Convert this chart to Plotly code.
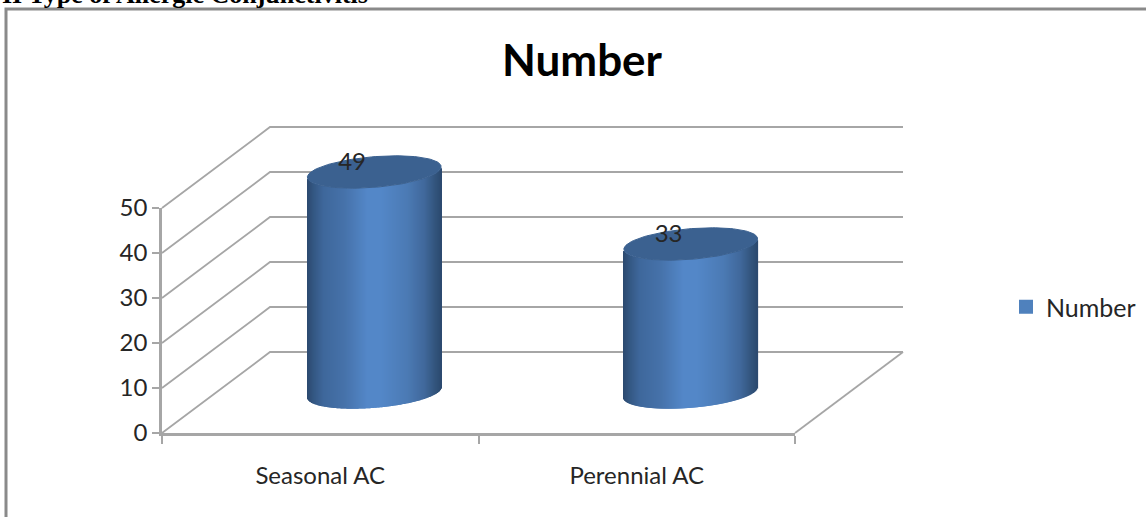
import numpy as np
import plotly.graph_objects as go

# Chart data
CATEGORIES = ["Seasonal AC", "Perennial AC"]
SERIES_NAME = "Number"
VALUES = [49, 33]
Y_TICKS = [0, 10, 20, 30, 40, 50]

# Figure and plot-box layout (pixels)
W, H = 1146, 517
BOX_LEFT, BOX_RIGHT, BOX_BOTTOM, BOX_TOP = 162, 795, 433, 208
X_MAX = len(CATEGORIES)
Y_MAX = Y_TICKS[-1]
PX_PER_CAT = (BOX_RIGHT - BOX_LEFT) / X_MAX
PX_PER_UNIT = (BOX_BOTTOM - BOX_TOP) / Y_MAX

# The drawing axes cover the whole figure on the same scale as the visible axes
FULL_X_RANGE = [-BOX_LEFT / PX_PER_CAT, (W - BOX_LEFT) / PX_PER_CAT]
FULL_Y_RANGE = [(BOX_BOTTOM - H) / PX_PER_UNIT, BOX_BOTTOM / PX_PER_UNIT]

# Oblique projection: full floor depth expressed in data units
DEPTH_X = 108 / PX_PER_CAT
DEPTH_Y = 81 / PX_PER_UNIT

# Cylinder proportions: radius along the category axis and along the depth axis
RADIUS_X = 0.2
RADIUS_Z = 0.2
CENTRE_Z = 0.5

GREY = "#a6a6a6"
TEXT = "#262626"
TOP_FACE = "#3b6190"
LEGEND_BLUE = "#4f81bd"
FONT = "Lato"

# Horizontal shading across a cylinder body (position, r, g, b)
SHADE = np.array([
    (0.00, 44, 74, 112),
    (0.05, 52, 88, 132),
    (0.12, 62, 103, 155),
    (0.28, 70, 114, 170),
    (0.45, 83, 135, 200),
    (0.55, 83, 135, 200),
    (0.75, 75, 122, 180),
    (0.88, 64, 104, 155),
    (0.96, 50, 84, 124),
    (1.00, 44, 74, 112),
])


def project(cat, value, z):
    """Map category position, value and depth (0 front, 1 back) to axis units."""
    return cat + z * DEPTH_X, value + z * DEPTH_Y


def shade(frac):
    return [
        "rgb({:.0f},{:.0f},{:.0f})".format(*(np.interp(f, SHADE[:, 0], SHADE[:, c]) for c in (1, 2, 3)))
        for f in frac
    ]


def cylinder_traces(index, value):
    cat = index + 0.5
    cx, floor_y = project(cat, 0, CENTRE_Z)

    # Half width of the sheared circle and the phase of its widest point
    b = RADIUS_Z * DEPTH_X
    half = np.hypot(RADIUS_X, b)
    phase = np.arctan2(b, RADIUS_X)

    # Body: one-pixel columns resting on the lower edge of the floor ellipse
    step = 1 / PX_PER_CAT
    xs = np.arange(cx - half + step / 2, cx + half, step)
    t = phase - np.arccos(np.clip((xs - cx) / half, -1, 1))
    base = floor_y + RADIUS_Z * DEPTH_Y * np.sin(t)
    body = go.Bar(
        x=xs, y=np.full_like(xs, value, dtype=float), base=base, width=step * 1.5,
        marker=dict(color=shade((xs - xs[0]) / (xs[-1] - xs[0])), line=dict(width=0)),
        showlegend=False, hoverinfo="skip", xaxis="x2", yaxis="y2",
    )

    # Top face: the same sheared circle lifted to the bar's value
    angle = np.linspace(0, 2 * np.pi, 121)
    tx, ty = project(cat + RADIUS_X * np.cos(angle), value, CENTRE_Z + RADIUS_Z * np.sin(angle))
    top = go.Scatter(
        x=tx, y=ty, mode="lines", fill="toself", fillcolor=TOP_FACE,
        line=dict(color=TOP_FACE, width=1),
        showlegend=False, hoverinfo="skip", xaxis="x2", yaxis="y2",
    )
    return body, top


fig = go.Figure()

# Walls and floor of the 3-D box, in the bottom subplot so the bars cover them
wall_x, wall_y = [], []
for v in Y_TICKS:
    a = project(0, v, 0)
    b = project(0, v, 1)
    c = project(X_MAX, v, 1)
    wall_x += [a[0], b[0], c[0], None]
    wall_y += [a[1], b[1], c[1], None]
a = project(X_MAX, 0, 0)
b = project(X_MAX, 0, 1)
wall_x += [a[0], b[0]]
wall_y += [a[1], b[1]]
fig.add_trace(go.Scatter(
    x=wall_x, y=wall_y, mode="lines", line=dict(color=GREY, width=1.8),
    showlegend=False, hoverinfo="skip", xaxis="x", yaxis="y",
))

# Cylinders
for i, val in enumerate(VALUES):
    body, top = cylinder_traces(i, val)
    fig.add_trace(body)
    fig.add_trace(top)

# Value labels sit just above the top face, left of its centre
lx, ly = [], []
for i, val in enumerate(VALUES):
    px, py = project(i + 0.5 - 0.07, val + 1.8, CENTRE_Z)
    lx.append(px)
    ly.append(py)
fig.add_trace(go.Scatter(
    x=lx, y=ly, mode="text", text=[str(v) for v in VALUES], textposition="middle center",
    textfont=dict(family=FONT, size=24, color=TEXT),
    showlegend=False, hoverinfo="skip", xaxis="x2", yaxis="y2",
))

# Legend entry, on the subplot that carries the visible axes
fig.add_trace(go.Bar(
    x=[None], y=[None], name=SERIES_NAME,
    marker=dict(color=LEGEND_BLUE, line=dict(color=LEGEND_BLUE, width=2)),
    xaxis="x3", yaxis="y3",
))

x_domain = [BOX_LEFT / W, BOX_RIGHT / W]
y_domain = [(H - BOX_BOTTOM) / H, (H - BOX_TOP) / H]
tick_font = dict(family=FONT, size=24, color=TEXT)
hidden_x = dict(domain=[0, 1], range=FULL_X_RANGE, visible=False, fixedrange=True)
hidden_y = dict(domain=[0, 1], range=FULL_Y_RANGE, visible=False, fixedrange=True)

fig.update_layout(
    width=W, height=H,
    margin=dict(l=0, r=0, t=0, b=0, autoexpand=False),
    paper_bgcolor="white", plot_bgcolor="rgba(0,0,0,0)",
    barmode="overlay",
    title=dict(
        text=SERIES_NAME, x=582 / W, xanchor="center", y=1 - 61 / H, yanchor="middle",
        font=dict(family=FONT, size=44, color="black", weight=700),
    ),
    xaxis=hidden_x,
    yaxis=hidden_y,
    xaxis2=dict(hidden_x, anchor="y2"),
    yaxis2=dict(hidden_y, anchor="x2"),
    xaxis3=dict(
        domain=x_domain, range=[0, X_MAX], anchor="y3",
        tickmode="array", tickvals=[i + 0.5 for i in range(X_MAX)], ticktext=CATEGORIES,
        ticks="", ticklabelstandoff=19, tickfont=tick_font,
        minor=dict(tickmode="array", tickvals=list(range(X_MAX + 1)), ticks="outside",
                   ticklen=8, tickwidth=2, tickcolor=GREY, showgrid=False),
        showline=True, linecolor=GREY, linewidth=2.5, showgrid=False, zeroline=False,
    ),
    yaxis3=dict(
        domain=y_domain, range=[0, Y_MAX], anchor="x3",
        tickmode="array", tickvals=Y_TICKS, ticks="outside", ticklen=7, tickwidth=2,
        tickcolor=GREY, tickfont=tick_font,
        showline=True, linecolor=GREY, linewidth=2.5, showgrid=False, zeroline=False,
    ),
    legend=dict(
        x=1006 / W, xanchor="left", y=1 - 307 / H, yanchor="middle",
        font=dict(family=FONT, size=25, color=TEXT), bgcolor="rgba(0,0,0,0)",
    ),
    showlegend=True,
    shapes=[dict(
        type="rect", xref="paper", yref="paper",
        x0=6 / W, x1=1160 / W, y0=-20 / H, y1=1 - 9 / H,
        line=dict(color="#8a8a8a", width=3), fillcolor="rgba(0,0,0,0)", layer="below",
    )],
    annotations=[dict(
        text="<b>II Type of Allergic Conjunctivitis</b>", xref="paper", yref="paper",
        x=0 / W, xanchor="left", y=1 + 22 / H, yanchor="top", showarrow=False,
        font=dict(family="Liberation Serif", size=26, color="black"),
    )],
)

fig.write_html("out.html")
